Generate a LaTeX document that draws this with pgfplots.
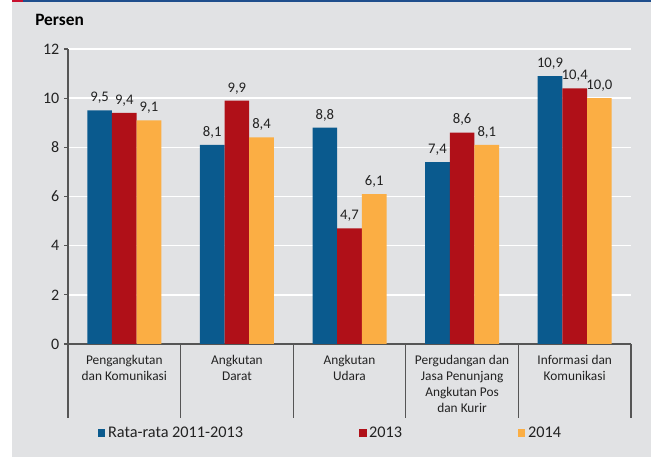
\documentclass[border=0pt]{standalone}
\usepackage{pgfplots}
\pgfplotsset{compat=1.18}
\usepackage{fontspec}
\setmainfont{Carlito}
\definecolor{bgc}{HTML}{E1E2E4}
\definecolor{cblue}{HTML}{0A5A8E}
\definecolor{cred}{HTML}{B01018}
\definecolor{corange}{HTML}{FBAE44}
\definecolor{axgray}{HTML}{555555}
\definecolor{txt}{HTML}{222222}
\definecolor{topblue}{HTML}{1F4E8C}
\definecolor{topred}{HTML}{C8102E}
\pgfplotstableread{
x avg y2013 y2014
0 9.5 9.4 9.1
1 8.1 9.9 8.4
2 8.8 4.7 6.1
3 7.4 8.6 8.1
4 10.9 10.4 10.0
}\datatable
\begin{document}
\begin{tikzpicture}
\useasboundingbox (0,0) rectangle (488.25pt,342.75pt);
\fill[bgc] (9pt,0) rectangle (488.25pt,342.75pt);
\fill[topblue] (9pt,341.5pt) rectangle (488.25pt,342.75pt);
\fill[topred] (9pt,341.5pt) rectangle (17.25pt,342.75pt);
\node[anchor=west, inner sep=0pt, font=\fontsize{13}{15}\selectfont\bfseries, text=black] at (26.25pt,327.75pt) {Persen};
\begin{axis}[
  at={(51pt,84.75pt)}, anchor=south west,
  scale only axis, width=422.25pt, height=221.25pt,
  xmin=-0.5, xmax=4.5, ymin=0, ymax=12,
  ytick={0,2,...,12},
  xtick={0,1,2,3,4},
  xticklabels={{Pengangkutan\\dan Komunikasi},{Angkutan\\Darat},{Angkutan\\Udara},{Pergudangan dan\\Jasa Penunjang\\Angkutan Pos\\dan Kurir},{Informasi dan\\Komunikasi}},
  x tick label style={align=center, font=\fontsize{10}{12}\selectfont, text=txt, yshift=-2pt},
  y tick label style={font=\fontsize{12}{14}\selectfont, text=txt},
  /pgf/number format/assume math mode=true,
  axis x line*=bottom, axis y line*=left,
  axis line style={axgray, line width=0.9pt},
  x axis line style={-}, y axis line style={-},
  xtick style={draw=none},
  ytick style={axgray, line width=0.9pt},
  tick align=outside, major tick length=3pt,
  ymajorgrids, grid style={white, line width=1.1pt},
  axis background/.style={fill=bgc},
  ybar=0pt, bar width=18.5pt,
  clip=false,
  nodes near coords={\pgfmathprintnumber[fixed, fixed zerofill, precision=1, use comma, assume math mode=true]{\pgfplotspointmeta}},
  nodes near coords style={font=\fontsize{11}{13}\selectfont, text=txt, anchor=south, yshift=1.5pt},
  legend style={at={(0.467,-0.302)}, anchor=center, draw=none, fill=none, font=\fontsize{12.2}{14}\selectfont, text=txt, legend columns=3, /tikz/every even column/.append style={column sep=85pt}},
  legend image code/.code={\fill[#1, draw=none] (0pt,-2.6pt) rectangle (5.5pt,2.9pt);},
]
\addplot[fill=cblue, draw=none] table[x=x, y=avg] {\datatable};
\addplot[fill=cred, draw=none] table[x=x, y=y2013] {\datatable};
\addplot[fill=corange, draw=none] table[x=x, y=y2014] {\datatable};
\legend{Rata-rata 2011-2013, 2013, 2014}
\pgfplotsinvokeforeach{-0.5,0.5,1.5,2.5,3.5,4.5}{
  \draw[axgray, line width=0.9pt] (axis cs:#1,0) -- (axis cs:#1,-3.01);
}
\end{axis}
\end{tikzpicture}
\end{document}
